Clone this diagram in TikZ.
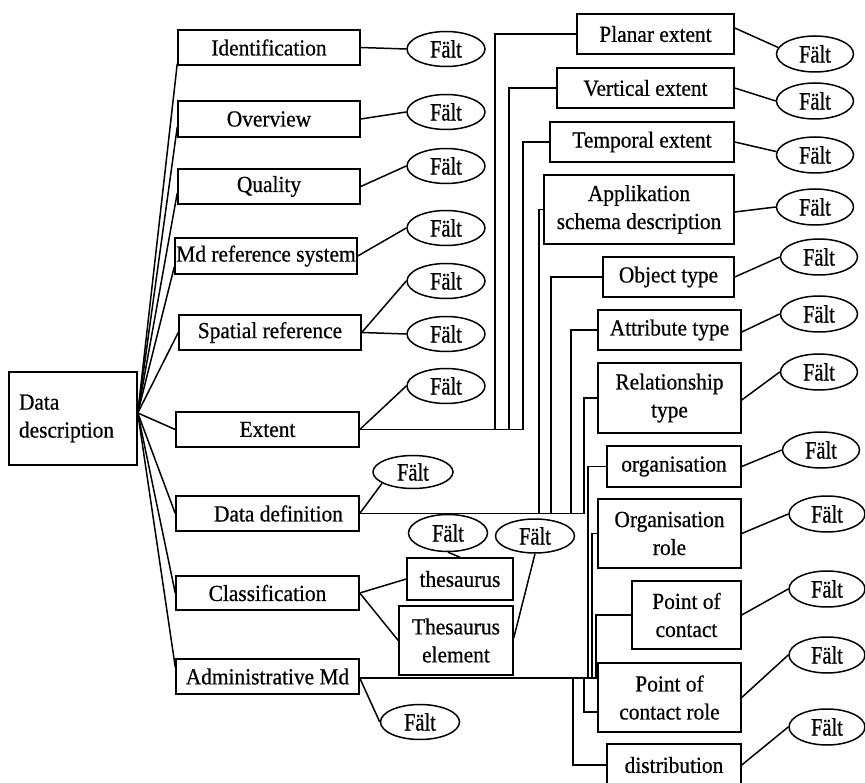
\documentclass[tikz,border=0pt]{standalone}
\usepackage{fontspec}
\setmainfont[FakeStretch=0.93,FakeBold=0.6]{Liberation Serif}
\newfontfamily\faltfont[FakeStretch=0.82,FakeBold=0.8]{Liberation Serif}
\usetikzlibrary{shapes.geometric}

\begin{document}
\begin{tikzpicture}[x=1pt,y=-1pt,line width=1.5pt,
  bx/.style={draw,rectangle,inner sep=1pt,align=center,
    font=\fontsize{23}{28}\selectfont},
  fa/.style={draw,ellipse,inner sep=0pt,minimum width=78pt,minimum height=35pt,
    font=\faltfont\fontsize{25}{25}\selectfont},
  fr/.style={fa,minimum width=77pt,minimum height=36pt}]
\useasboundingbox (0,0) rectangle (865,783);

% root
\node[bx,align=left,text width=108pt,inner xsep=10pt,minimum width=128pt,minimum height=93pt]
  (dd) at (73,418.5) {Data\\description};

% first level
\node[bx,minimum width=182pt,minimum height=35pt] (id) at (269,47.5) {Identification};
\node[bx,minimum width=182pt,minimum height=36pt] (ov) at (269,119) {Overview};
\node[bx,minimum width=182pt,minimum height=35pt] (qu) at (269,186.5) {Quality};
\node[bx,minimum width=182pt,minimum height=36pt] (md) at (266,256) {Md reference system};
\node[bx,minimum width=182pt,minimum height=35pt] (sp) at (270,332.5) {Spatial reference};
\node[bx,minimum width=183pt,minimum height=35pt] (ex) at (267.5,429.5) {Extent};
\node[bx,minimum width=183pt,minimum height=35pt] (df) at (267.5,513.5) {\hspace*{22pt}Data definition};
\node[bx,minimum width=183pt,minimum height=34pt] (cl) at (267.5,593) {Classification};
\node[bx,minimum width=183pt,minimum height=35pt] (ad) at (267.5,676.5) {Administrative Md};

% classification children
\node[bx,minimum width=106pt,minimum height=42pt] (th) at (460,579) {thesaurus};
\node[bx,minimum width=114pt,minimum height=69pt] (te) at (456,640.5) {Thesaurus\\element};

% right column
\node[bx,minimum width=157pt,minimum height=40pt] (pe) at (655.5,34) {Planar extent};
\node[bx,minimum width=177pt,minimum height=40pt] (ve) at (645.5,88) {Vertical extent};
\node[bx,minimum width=184pt,minimum height=40pt] (tp) at (642,142) {Temporal extent};
\node[bx,minimum width=190pt,minimum height=69pt] (ap) at (639,209.5) {Applikation\\schema description};
\node[bx,minimum width=131pt,minimum height=40pt] (ot) at (668.5,277) {Object type};
\node[bx,minimum width=143pt,minimum height=40pt] (at) at (669.5,330) {Attribute type};
\node[bx,minimum width=143pt,minimum height=70pt] (rt) at (669.5,398) {Relationship\\type};
\node[bx,minimum width=134pt,minimum height=41pt] (og) at (674,466.5) {organisation};
\node[bx,minimum width=143pt,minimum height=69pt] (ogr) at (669.5,533.5) {Organisation\\role};
\node[bx,minimum width=109pt,minimum height=68pt] (pc) at (686.5,615) {Point of\\contact};
\node[bx,minimum width=143pt,minimum height=69pt] (pcr) at (669.5,697.5) {Point of\\contact role};
\node[bx,minimum width=134pt,minimum height=42pt] (ds) at (674,765) {distribution};

% field ellipses, left part
\node[fa] (f1) at (446,49) {Fält};
\node[fa] (f2) at (446,112) {Fält};
\node[fa] (f3) at (446,166) {Fält};
\node[fa] (f4) at (446,228) {Fält};
\node[fa] (f5) at (446,281) {Fält};
\node[fa] (f6) at (446,334) {Fält};
\node[fa] (f7) at (446,386) {Fält};
\node[fa,minimum width=80pt,minimum height=33pt] (fdf) at (413,472) {Fält};
\node[fa,minimum width=79pt,minimum height=37pt] (fth) at (448,533) {Fält};
\node[fa,minimum width=79pt,minimum height=34pt] (fte) at (535,536) {Fält};
\node[fa,minimum width=79pt] (fad) at (420,722) {Fält};

% field ellipses, right part
\node[fr] (fpe) at (815,54) {Fält};
\node[fr] (fve) at (815,101) {Fält};
\node[fr] (ftp) at (815,155) {Fält};
\node[fr] (fap) at (815,207) {Fält};
\node[fr] (fot) at (819,257) {Fält};
\node[fr] (fat) at (819,314) {Fält};
\node[fr] (frt) at (819,372) {Fält};
\node[fr] (fog) at (821,450) {Fält};
\node[fr,minimum width=76pt] (fogr) at (827,514) {Fält};
\node[fr,minimum width=76pt] (fpc) at (827,589) {Fält};
\node[fr,minimum width=76pt] (fpcr) at (827,655) {Fält};
\node[fr,minimum width=76pt] (fds) at (827,727) {Fält};

% fan from the root
\coordinate (hub) at ([yshift=5.5pt]dd.east);
\draw (hub) -- ([yshift=2pt]id.south west);
\draw (hub) -- ([yshift=-8pt]ov.west);
\draw (hub) -- ([yshift=-6.5pt]qu.west);
\draw (hub) -- ([yshift=-11pt]md.west);
\draw (hub) -- (sp.west);
\draw (hub) -- (ex.west);
\draw (hub) -- (df.west);
\draw (hub) -- (cl.west);
\draw (hub) -- ([yshift=9.5pt]ad.west);

% first level to fields
\draw (id.east) -- (f1.west);
\draw (ov.east) -- (f2.west);
\draw (qu.east) -- (f3.west);
\draw (md.east) -- (f4.west);
\draw (sp.east) -- (f5.west);
\draw (sp.east) -- (f6.west);
\draw (ex.east) -- (f7.west);
\draw (df.east) -- (fdf.200);
\draw (cl.east) -- (th.west);
\draw (cl.east) -- (te.west);
\draw (th.north) -- (fth.south);
\draw ([yshift=2.5pt]te.east) -- (fte.south);
\draw ([yshift=-1.5pt]ad.east) -- (fad.west);

% extent bus
\draw (ex.east) -- ++(135,0) |- (pe.west);
\draw (ex.east) -- ++(149,0) |- (ve.west);
\draw (ex.east) -- ++(163,0) |- (tp.west);

% data definition bus
\draw (df.east) -- ++(179,0) |- (ap.west);
\draw (df.east) -- ++(191,0) |- (ot.west);
\draw (df.east) -- ++(211,0) |- (at.west);
\draw (df.east) -- ++(224,0) |- (rt.west);

% administrative bus
\draw ([yshift=-1.5pt]ad.east) -- ++(228,0) |- (og.west);
\draw ([yshift=-1.5pt]ad.east) -- ++(232,0) |- (ogr.west);
\draw ([yshift=-1.5pt]ad.east) -- ++(236,0) |- (pc.west);
\draw ([yshift=-1.5pt]ad.east) -- ++(224,0) |- ([yshift=-14.5pt]pcr.west);
\draw ([yshift=-1.5pt]ad.east) -- ++(213,0) |- (ds.west);

% right column to fields
\draw ([yshift=6pt]pe.east) -- (fpe.170);
\draw (ve.east) -- (fve.west);
\draw (tp.east) -- (ftp.175);
\draw ([yshift=-2.5pt]ap.east) -- (fap.west);
\draw (ot.east) -- (fot.west);
\draw ([yshift=-2pt]at.east) -- (fat.west);
\draw ([yshift=-2pt]rt.east) -- (frt.west);
\draw (og.east) -- (fog.west);
\draw (ogr.east) -- (fogr.west);
\draw (pc.east) -- (fpc.west);
\draw (pcr.east) -- (fpcr.west);
\draw (ds.east) -- (fds.west);
\end{tikzpicture}
\end{document}
